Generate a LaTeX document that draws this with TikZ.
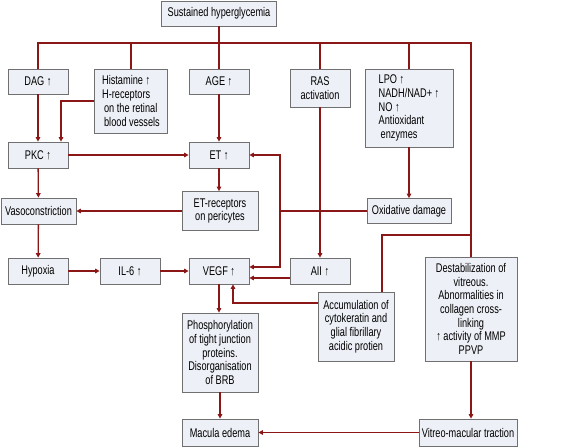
\documentclass[tikz,border=0pt]{standalone}
\usepackage{fontspec}
\setmainfont{Liberation Sans}[FakeStretch=0.73]
\usepackage{tikz}
\usetikzlibrary{arrows.meta,positioning,calc}
\usepackage{xcolor}
\definecolor{linered}{RGB}{139,22,22}
\definecolor{boxfill}{RGB}{237,240,246}
\definecolor{boxline}{RGB}{112,112,112}

\begin{document}
\begin{tikzpicture}[x=1pt, y=-1pt,
    stepbox/.style={rectangle, draw=boxline, line width=0.7pt, fill=boxfill,
        inner sep=1pt, align=center,
        font=\fontsize{12.6}{13.7}\selectfont},
    ln/.style={line width=1.3pt, linered},
    arr/.style={-{Triangle[length=4.6pt,width=4.6pt]}, line width=1.3pt, linered}
]
    \useasboundingbox (0,0) rectangle (565,447);
    % top row
    \node[stepbox, minimum width=115, minimum height=25] (top) at (219,13.5) {Sustained hyperglycemia};
    \node[stepbox, minimum width=60, minimum height=25] (dag) at (38,81.5) {DAG ↑};
    \node[stepbox, minimum width=73, minimum height=64, align=left] (hist) at (131,101)
        {Histamine ↑\\H-receptors\\\hspace{2pt}on the retinal\\\hspace{2pt}blood vessels};
    \node[stepbox, minimum width=60, minimum height=25] (age) at (219,81.5) {AGE ↑};
    \node[stepbox, minimum width=60, minimum height=38] (ras) at (320,88) {RAS\\activation};
    \node[stepbox, minimum width=88, minimum height=78, align=left] (lpo) at (409,108)
        {LPO ↑\\NADH/NAD+ ↑\\NO ↑\\Antioxidant\\\hspace{2pt}enzymes};
    % middle
    \node[stepbox, minimum width=60, minimum height=26] (pkc) at (38,155) {PKC ↑};
    \node[stepbox, minimum width=60, minimum height=26] (et) at (219,155) {ET ↑};
    \node[stepbox, minimum width=76, minimum height=39] (etr) at (220,211) {ET-receptors\\on pericytes};
    \node[stepbox, minimum width=75, minimum height=26] (vaso) at (38.5,211) {Vasoconstriction};
    \node[stepbox, minimum width=84, minimum height=25] (oxd) at (409,211) {Oxidative damage};
    \node[stepbox, minimum width=60, minimum height=26] (hyp) at (38,271) {Hypoxia};
    \node[stepbox, minimum width=60, minimum height=26] (il6) at (130,271) {IL-6 ↑};
    \node[stepbox, minimum width=60, minimum height=26] (vegf) at (219,271) {VEGF ↑};
    \node[stepbox, minimum width=60, minimum height=26] (aii) at (320,271) {AII ↑};
    % bottom
    \node[stepbox, minimum width=76, minimum height=69] (acc) at (356,326.5)
        {Accumulation of\\cytokeratin and\\glial fibrillary\\acidic protien};
    \node[stepbox, minimum width=92, minimum height=104] (dest) at (471,309)
        {Destabilization of\\vitreous.\\Abnormalities in\\collagen cross-\\linking\\↑ activity of MMP\\PPVP};
    \node[stepbox, minimum width=76, minimum height=79] (phos) at (220,352.5)
        {Phosphorylation\\of tight junction\\proteins.\\Disorganisation\\of BRB};
    \node[stepbox, minimum width=76, minimum height=27] (mac) at (220,432.5) {Macula edema};
    \node[stepbox, minimum width=98, minimum height=27] (vmt) at (468,432.5) {Vitreo-macular traction};

    \coordinate (br) at (471,43);
    \coordinate (j) at (280,211);
    \coordinate (k) at (471,235);

    % distribution line
    \draw[ln] (top) -- (top |- br);
    \draw[ln] (dag.north) |- (br) -- (dest.north);
    \draw[ln] (hist.north) -- (hist.north |- br);
    \draw[ln] (age.north) -- (age.north |- br);
    \draw[ln] (ras.north) -- (ras.north |- br);
    \draw[ln] (lpo.north) -- (lpo.north |- br);

    \draw[arr] (dag) -- (pkc);
    \draw[arr] (hist.west) -| ($(pkc.north)+(23,0)$);
    \draw[arr] (age) -- (et);
    \draw[arr] (pkc) -- (et);
    \draw[arr] (et) -- (et |- etr.north);
    \draw[arr] (etr) -- (vaso);
    \draw[arr] (pkc) -- (vaso);
    \draw[arr] (vaso) -- (hyp);
    \draw[arr] (hyp) -- (il6);
    \draw[arr] (il6) -- (vegf);
    \draw[arr] (lpo) -- (oxd);
    \draw[ln] (oxd) -- (j);
    \draw[arr] (j) |- (et);
    \draw[arr] (j) |- ($(vegf.east)+(0,-4)$);
    \draw[arr] (ras) -- (aii);
    \draw[arr] ($(aii.west)+(0,7)$) -- ($(vegf.east)+(0,7)$);
    \draw[ln] (k) -| ($(acc.north)+(26,0)$);
    \draw[arr] ($(acc.west)+(0,-23.5)$) -| ($(vegf.south)+(14,0)$);
    \draw[arr] (vegf) -- (vegf |- phos.north);
    \draw[arr] (phos) -- (mac);
    \draw[arr] (dest) -- (dest |- vmt.north);
    \draw[arr] (vmt) -- (mac);
\end{tikzpicture}
\end{document}
